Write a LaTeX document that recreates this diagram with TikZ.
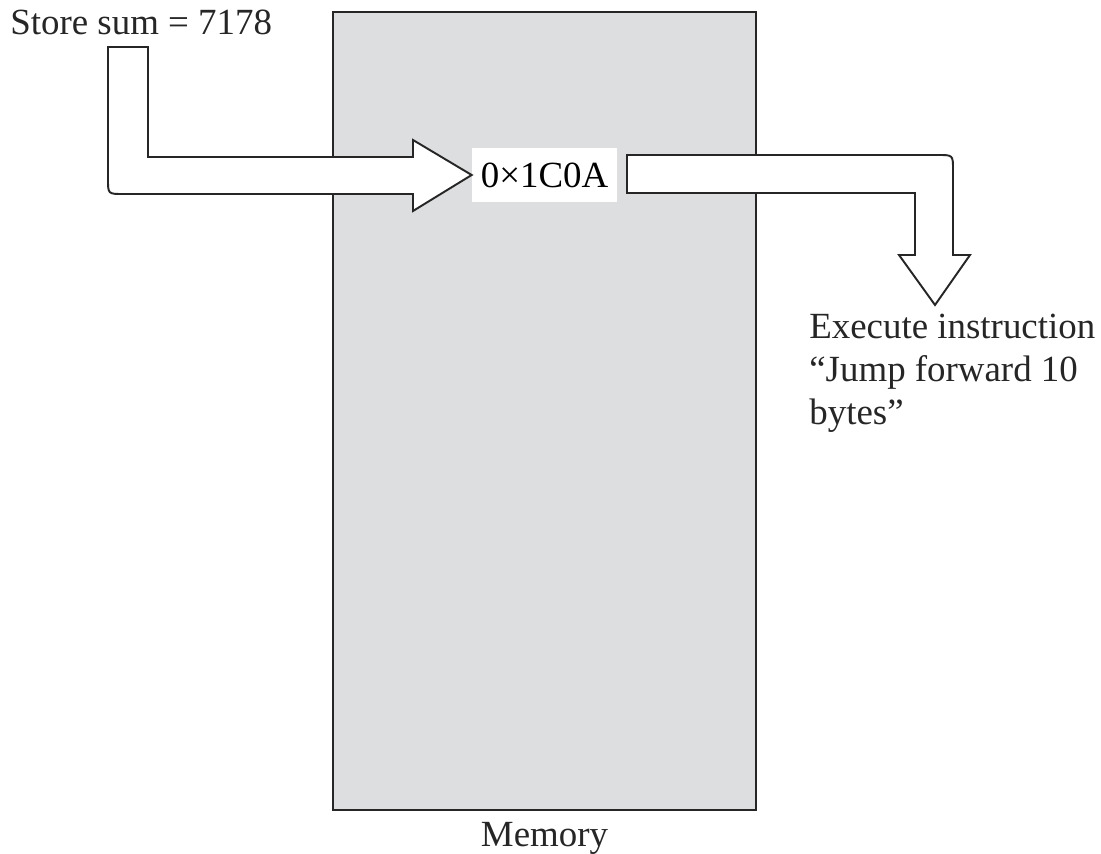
\documentclass[tikz,border=0pt]{standalone}
\usepackage{fontspec}
\setmainfont{Liberation Serif}
\usetikzlibrary{positioning}
\definecolor{MemGray}{RGB}{221,222,224}
\definecolor{Ink}{RGB}{38,38,38}

\begin{document}
\begin{tikzpicture}[x=0.02cm,y=-0.02cm,
    font=\fontsize{21}{24.5}\selectfont,
    memcell/.style={draw=Ink,line width=1.2pt,fill=MemGray,
      minimum width=8.46cm,minimum height=15.96cm,inner sep=0pt},
    blockarrow/.style={draw=Ink,line width=1.1pt,fill=white,line join=miter},
    addrbox/.style={fill=white,minimum width=2.9cm,minimum height=1.1cm,inner sep=0pt},
    lbl/.style={text=Ink,inner sep=0pt}]
  \useasboundingbox (0,0) rectangle (1101,854);

  \node[memcell] (mem) at (544.5,411) {};
  \node[lbl,below=6pt of mem.south,anchor=north] (memlbl) {Memory};

  \node[addrbox] (addr) at (544.5,175) {0×1C0A};
  \node[lbl,anchor=base west] (store) at (10,35) {Store sum = 7178};
  \node[lbl,anchor=north west,align=left] (exec) at (809,314)
    {Execute instruction\\“Jump forward 10\\bytes”};

  % store arrow, from the label down and into the cell
  \coordinate (inL) at (addr.west);
  \draw[blockarrow] (108,47) -- (148,47) -- (148,157) -- (413,157)
    -- (413,140) -- (inL) -- (413,211) -- (413,194) -- (123,194)
    .. controls (108,194) .. (108,179) -- cycle;

  % fetch arrow, out of the cell and down to the instruction
  \coordinate (tipR) at (935,305);
  \draw[blockarrow] (627,155) -- (938,155) .. controls (953,155) .. (953,170)
    -- (953,255) -- (970,255) -- (tipR) -- (899,255) -- (915,255)
    -- (915,193) -- (627,193) -- cycle;
\end{tikzpicture}
\end{document}
